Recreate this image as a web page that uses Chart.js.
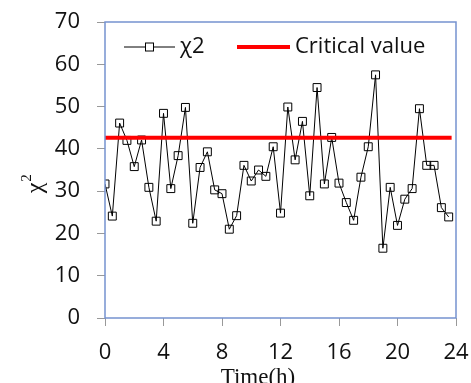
<!DOCTYPE html>
<html>
<head>
<meta charset="utf-8">
<script src="https://cdn.jsdelivr.net/npm/chart.js@4/dist/chart.umd.min.js"></script>
<style>
  html, body { margin: 0; padding: 0; background: #fff; }
  canvas { display: block; }
</style>
</head>
<body>
<canvas id="chiChart" width="471" height="383"></canvas>
<script>
// Data: chi-square every half hour
const times = [0, 0.5, 1, 1.5, 2, 2.5, 3, 3.5, 4, 4.5, 5, 5.5, 6, 6.5, 7, 7.5,
    8, 8.5, 9, 9.5, 10, 10.5, 11, 11.5, 12, 12.5, 13, 13.5, 14, 14.5, 15, 15.5,
    16, 16.5, 17, 17.5, 18, 18.5, 19, 19.5, 20, 20.5, 21, 21.5, 22, 22.5, 23, 23.5];
const chi2 = [31.7, 24.1, 46.1, 42.0, 35.8, 42.1, 30.9, 22.9, 48.4, 30.6, 38.4, 49.8,
    22.4, 35.6, 39.3, 30.3, 29.4, 21.0, 24.2, 36.1, 32.4, 35.0, 33.5, 40.5,
    24.8, 49.9, 37.4, 46.5, 28.9, 54.5, 31.7, 42.7, 31.9, 27.3, 23.1, 33.3,
    40.5, 57.5, 16.5, 30.9, 21.9, 28.1, 30.6, 49.5, 36.1, 36.1, 26.1, 23.9];
const critX = [0, 23.7];
const critY = [42.6, 42.6];
const xTicks = [0, 4, 8, 12, 16, 20, 24];
const yTicks = [0, 10, 20, 30, 40, 50, 60, 70];

const SANS = '"Open Sans", sans-serif';
const SERIF = '"Liberation Serif", "Times New Roman", serif';

// frame, axis titles and legend drawn on the canvas
const extras = {
    id: 'extras',
    afterDatasetsDraw(chart) {
        const ctx = chart.ctx;
        const a = chart.chartArea;
        ctx.save();
        ctx.strokeStyle = '#7592cf';
        ctx.lineWidth = 1.5;
        ctx.strokeRect(a.left, a.top, a.right - a.left, a.bottom - a.top);

        // legend
        const ly = 47;
        ctx.strokeStyle = '#000';
        ctx.lineWidth = 1;
        ctx.beginPath();
        ctx.moveTo(124, ly);
        ctx.lineTo(175, ly);
        ctx.stroke();
        ctx.fillStyle = '#fff';
        ctx.fillRect(145.5, ly - 4, 8, 8);
        ctx.strokeRect(145.5, ly - 4, 8, 8);
        ctx.strokeStyle = '#ff0000';
        ctx.lineWidth = 4;
        ctx.beginPath();
        ctx.moveTo(237, ly);
        ctx.lineTo(290, ly);
        ctx.stroke();
        ctx.fillStyle = '#111';
        ctx.font = '22px ' + SANS;
        ctx.textBaseline = 'middle';
        ctx.textAlign = 'left';
        ctx.fillText('\u03c72', 180, ly);
        ctx.fillText('Critical value', 295, ly);

        // x title
        ctx.font = '23px ' + SERIF;
        ctx.textAlign = 'center';
        ctx.textBaseline = 'alphabetic';
        ctx.fillText('Time(h)', 258, 384);

        // y title
        ctx.translate(36, 188);
        ctx.rotate(-Math.PI / 2);
        ctx.textBaseline = 'middle';
        ctx.font = '24px ' + SERIF;
        ctx.fillText('\u03c7', 0, 0);
        ctx.font = '15px ' + SERIF;
        ctx.fillText('2', 10, -9);
        ctx.restore();
    }
};

const ctx = document.getElementById('chiChart').getContext('2d');
const chiChart = new Chart(ctx, {
    type: 'line',
    data: {
        datasets: [{
            label: 'Critical value',
            data: critX.map((x, i) => ({ x: x, y: critY[i] })),
            borderColor: '#ff0000',
            borderWidth: 4,
            pointRadius: 0,
            order: 0
        }, {
            label: '\u03c72',
            data: times.map((t, i) => ({ x: t, y: chi2[i] })),
            borderColor: '#000',
            borderWidth: 1,
            pointStyle: 'rect',
            pointRadius: 5.6,
            pointBorderColor: '#000',
            pointBorderWidth: 1,
            pointBackgroundColor: 'rgba(0,0,0,0)',
            tension: 0,
            order: 1
        }]
    },
    options: {
        responsive: false,
        devicePixelRatio: 1,
        animation: false,
        layout: { padding: { top: 22, right: 15, left: 0, bottom: 0 } },
        plugins: {
            legend: { display: false },
            tooltip: { enabled: false }
        },
        scales: {
            x: {
                type: 'linear',
                min: 0,
                max: 24,
                afterBuildTicks: (s) => { s.ticks = xTicks.map(v => ({ value: v })); },
                afterFit: (s) => {
                    s.height = 65;
                    s.paddingLeft = 0;
                    s.paddingRight = 0;
                },
                border: { display: false },
                grid: { drawOnChartArea: false, drawTicks: true, tickLength: 8, color: '#999' },
                ticks: { padding: 14, color: '#111', font: { family: SANS, size: 22 } }
            },
            y: {
                min: 0,
                max: 70,
                afterBuildTicks: (s) => { s.ticks = yTicks.map(v => ({ value: v })); },
                afterFit: (s) => {
                    s.width = 105;
                    s.paddingTop = 0;
                    s.paddingBottom = 0;
                },
                border: { display: false },
                grid: { drawOnChartArea: false, drawTicks: true, tickLength: 8, color: '#999' },
                ticks: { padding: 17, color: '#111', font: { family: SANS, size: 22 } }
            }
        }
    },
    plugins: [extras]
});
</script>
</body>
</html>
